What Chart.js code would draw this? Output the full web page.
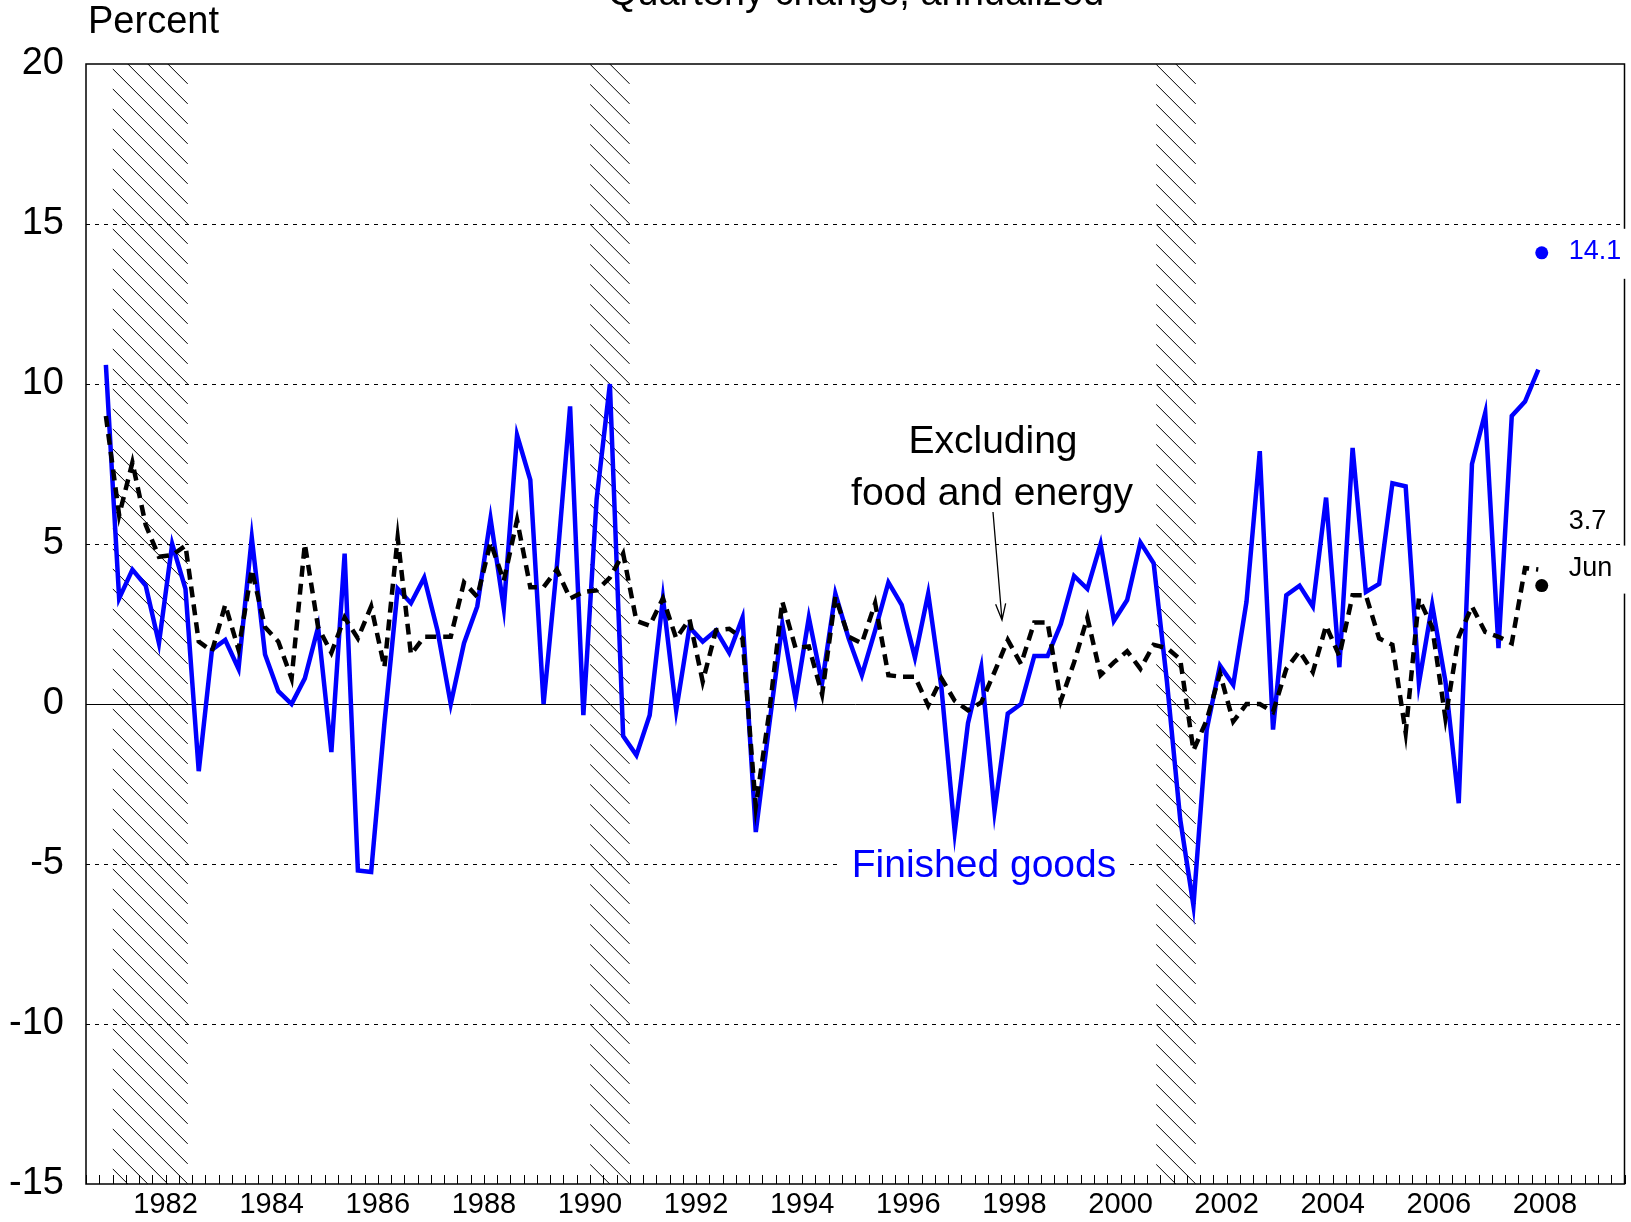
<!DOCTYPE html>
<html>
<head>
<meta charset="utf-8">
<title>Finished goods prices</title>
<script src="https://cdn.jsdelivr.net/npm/chart.js@4.4.1/dist/chart.umd.min.js"></script>
<style>
  body { margin: 0; background: #fff; }
  canvas { display: block; }
</style>
</head>
<body>
<canvas id="ppi" width="1631" height="1222"></canvas>
<script>
// Quarterly change, annualized (percent), 1981 Q2 .. 2008 Q2
const firstYear = 1981, firstQuarter = 2;

const finishedGoods = [
  10.6, 3.3, 4.2,
  3.7, 1.9, 5.0, 3.6,      // 1982
  -2.1, 1.7, 2.0, 1.1,     // 1983
  5.2, 1.55, 0.4, 0.0,     // 1984
  0.8, 2.4, -1.5, 4.7,     // 1985
  -5.2, -5.25, -0.6, 3.6,  // 1986
  3.15, 3.95, 2.3, 0.0,    // 1987
  1.9, 3.05, 5.8, 3.0,     // 1988
  8.4, 7.0, 0.0, 4.3,      // 1989
  9.3, -0.35, 6.4, 10.0,   // 1990
  -1.0, -1.6, -0.35, 3.3,  // 1991
  -0.2, 2.4, 1.95, 2.3,    // 1992
  1.6, 2.7, -4.0, -0.7,    // 1993
  2.5, 0.15, 2.7, 0.65,    // 1994
  3.45, 2.05, 0.9, 2.3,    // 1995
  3.8, 3.1, 1.45, 3.45,    // 1996
  0.5, -4.0, -0.6, 1.15,   // 1997
  -3.35, -0.3, 0.0, 1.5,   // 1998
  1.5, 2.5, 4.0, 3.6,      // 1999
  5.0, 2.6, 3.25, 5.05,    // 2000
  4.4, 0.7, -3.6, -6.3,    // 2001
  -0.8, 1.2, 0.6, 3.2,     // 2002
  7.9, -0.8, 3.4, 3.7,     // 2003
  3.05, 6.45, 1.15, 8.0,   // 2004
  3.5, 3.75, 6.9, 6.8,     // 2005
  0.65, 3.1, 0.7, -3.1,    // 2006
  7.5, 9.1, 1.75, 9.0,     // 2007
  9.45, 10.45              // 2008
];

const exFoodEnergy = [
  9.0, 5.9, 7.55,
  5.6, 4.6, 4.65, 4.95,    // 1982
  1.95, 1.65, 3.1, 1.7,    // 1983
  4.2, 2.4, 1.95, 0.8,     // 1984
  5.0, 2.4, 1.6, 2.7,      // 1985
  2.05, 3.05, 1.15, 5.2,   // 1986
  1.55, 2.1, 2.1, 2.1,     // 1987
  3.8, 3.35, 5.05, 3.85,   // 1988
  5.75, 3.65, 3.65, 4.2,   // 1989
  3.3, 3.5, 3.55, 3.95,    // 1990
  4.7, 2.6, 2.45, 3.3,     // 1991
  2.05, 2.65, 0.7, 2.3,    // 1992
  2.35, 2.05, -3.2, -0.3,  // 1993
  3.2, 1.75, 1.8, 0.3,     // 1994
  3.35, 2.1, 1.9, 3.15,    // 1995
  0.9, 0.85, 0.85, -0.05,  // 1996
  0.8, 0.1, -0.2, 0.05,    // 1997
  1.0, 2.0, 1.25, 2.55,    // 1998
  2.55, 0.1, 1.3, 2.7,     // 1999
  0.9, 1.3, 1.65, 1.1,     // 2000
  1.85, 1.75, 1.4, -1.45,  // 2001
  -0.5, 0.95, -0.55, 0.0,  // 2002
  0.0, -0.25, 1.1, 1.65,   // 2003
  1.0, 2.45, 1.5, 3.4,     // 2004
  3.4, 2.05, 1.85, -0.9,   // 2005
  3.3, 2.4, -0.45, 2.1,    // 2006
  3.05, 2.25, 2.1, 1.9,    // 2007
  4.25, 4.2                // 2008
];

// latest monthly reading, June 2008
const juneX = 2008.44;
const juneFinished = 14.1;
const juneCore = 3.7;

// recessions, decimal years
const recessionStart = [1981.5, 1990.5, 2001.17];
const recessionEnd = [1982.92, 1991.25, 2001.92];

const yTicks = [-15, -10, -5, 0, 5, 10, 15, 20];
const yearLabels = [1982, 1984, 1986, 1988, 1990, 1992, 1994, 1996, 1998, 2000, 2002, 2004, 2006, 2008];

// quarter midpoints on a decimal-year axis
const quarterX = finishedGoods.map((v, i) => firstYear + (firstQuarter - 1 + i) / 4 + 0.125);
const toPoints = arr => arr.map((v, i) => ({x: quarterX[i], y: v}));

const FONT = '"Liberation Sans", Arial, Helvetica, sans-serif';
const BLUE = '#0000ff';

const decor = {
  id: 'decor',
  beforeDatasetsDraw(chart) {
    const {ctx, chartArea: a, scales: {x, y}} = chart;
    ctx.save();
    // hatched recession bands
    for (let r = 0; r < recessionStart.length; r++) {
      const x1 = x.getPixelForValue(recessionStart[r]);
      const x2 = x.getPixelForValue(recessionEnd[r]);
      const w = x2 - x1;
      ctx.save();
      ctx.beginPath();
      ctx.rect(x1, a.top, w, a.bottom - a.top);
      ctx.clip();
      ctx.strokeStyle = '#000';
      ctx.lineWidth = 1;
      ctx.beginPath();
      for (let yy = a.top - w; yy < a.bottom; yy += 20) {
        ctx.moveTo(x1, yy);
        ctx.lineTo(x2, yy + w);
      }
      ctx.stroke();
      ctx.restore();
    }
    // horizontal grid
    yTicks.forEach(v => {
      if (v === yTicks[0] || v === yTicks[yTicks.length - 1]) return;
      const py = Math.round(y.getPixelForValue(v)) + 0.5;
      ctx.beginPath();
      ctx.strokeStyle = '#000';
      ctx.lineWidth = 1;
      ctx.setLineDash(v === 0 ? [] : [4, 5]);
      ctx.moveTo(a.left, py);
      ctx.lineTo(a.right, py);
      ctx.stroke();
    });
    ctx.setLineDash([]);
    // white box behind the "Finished goods" label
    ctx.fillStyle = '#fff';
    ctx.fillRect(842, y.getPixelForValue(-5) - 22, 285, 44);
    ctx.restore();
  },
  afterDatasetsDraw(chart) {
    const {ctx, chartArea: a, scales: {x, y}} = chart;
    ctx.save();
    ctx.setLineDash([]);
    // frame
    ctx.strokeStyle = '#000';
    ctx.lineWidth = 1.5;
    ctx.strokeRect(a.left, a.top, a.right - a.left, a.bottom - a.top);
    // quarterly ticks along the bottom, pointing in
    ctx.lineWidth = 1;
    ctx.beginPath();
    for (let t = x.min; t <= x.max; t += 0.25) {
      const px = Math.round(x.getPixelForValue(t)) + 0.5;
      ctx.moveTo(px, a.bottom);
      ctx.lineTo(px, a.bottom - 9);
    }
    ctx.stroke();

    // axis labels
    ctx.fillStyle = '#000';
    ctx.textBaseline = 'middle';
    ctx.textAlign = 'right';
    ctx.font = '38px ' + FONT;
    yTicks.forEach(v => ctx.fillText(String(v), a.left - 22, y.getPixelForValue(v)));
    ctx.textAlign = 'center';
    ctx.font = '29px ' + FONT;
    yearLabels.forEach(yr => ctx.fillText(String(yr), x.getPixelForValue(yr + 0.5), a.bottom + 21));

    // label boxes at the right edge
    const dotX = x.getPixelForValue(juneX);
    ctx.fillStyle = '#fff';
    ctx.fillRect(dotX + 12, y.getPixelForValue(juneFinished) - 24, 100, 50);
    ctx.fillRect(dotX + 11, y.getPixelForValue(juneCore) - 40, 100, 48);

    ctx.textAlign = 'left';
    ctx.font = '27px ' + FONT;
    ctx.fillStyle = BLUE;
    ctx.fillText('14.1', dotX + 27, y.getPixelForValue(juneFinished) - 1);
    ctx.fillStyle = '#000';
    ctx.fillText('3.7', dotX + 27, y.getPixelForValue(juneCore) - 64);
    ctx.fillText('Jun', dotX + 27, y.getPixelForValue(juneCore) - 17);

    // titles
    ctx.textBaseline = 'alphabetic';
    ctx.font = '38px ' + FONT;
    ctx.fillText('Percent', 88, 33);
    ctx.textAlign = 'center';
    ctx.fillText('Quarterly change, annualized', 856, 5);

    // series annotations
    ctx.font = '39px ' + FONT;
    ctx.fillText('Excluding', 993, 453);
    ctx.fillText('food and energy', 992, 505);
    ctx.fillStyle = BLUE;
    ctx.fillText('Finished goods', 984, 877);

    // arrow to the dashed line
    const x0 = 993, y0 = 512, x1 = 1002, y1 = 620;
    const ang = Math.atan2(y1 - y0, x1 - x0);
    ctx.strokeStyle = '#000';
    ctx.lineWidth = 1.3;
    ctx.beginPath();
    ctx.moveTo(x0, y0);
    ctx.lineTo(x1, y1);
    ctx.moveTo(x1 - 17 * Math.cos(ang - 0.3), y1 - 17 * Math.sin(ang - 0.3));
    ctx.lineTo(x1, y1);
    ctx.lineTo(x1 - 17 * Math.cos(ang + 0.3), y1 - 17 * Math.sin(ang + 0.3));
    ctx.stroke();
    ctx.restore();
  }
};

var ctx = document.getElementById('ppi').getContext('2d');
var myChart = new Chart(ctx, {
  type: 'line',
  data: {
    datasets: [
      {
        label: 'Excluding food and energy',
        data: toPoints(exFoodEnergy),
        borderColor: '#000',
        borderWidth: 4.5,
        borderDash: [11, 7],
        pointRadius: 0,
        tension: 0
      },
      {
        label: 'Finished goods',
        data: toPoints(finishedGoods),
        borderColor: BLUE,
        borderWidth: 4.5,
        pointRadius: 0,
        tension: 0
      },
      {
        label: 'June finished',
        data: [{x: juneX, y: juneFinished}],
        showLine: false,
        pointRadius: 6.5,
        pointBorderWidth: 0,
        pointBackgroundColor: BLUE
      },
      {
        label: 'June core',
        data: [{x: juneX, y: juneCore}],
        showLine: false,
        pointRadius: 6.5,
        pointBorderWidth: 0,
        pointBackgroundColor: '#000'
      }
    ]
  },
  options: {
    responsive: false,
    animation: false,
    events: [],
    layout: { padding: { top: 64, right: 6, left: 86, bottom: 38 } },
    plugins: { legend: { display: false }, tooltip: { enabled: false } },
    scales: {
      x: {
        type: 'linear',
        min: 1981,
        max: 2010,
        grid: { display: false, drawTicks: false },
        border: { display: false },
        ticks: { display: false }
      },
      y: {
        min: -15,
        max: 20,
        grid: { display: false, drawTicks: false },
        border: { display: false },
        ticks: { display: false, stepSize: 5 }
      }
    }
  },
  plugins: [decor]
});
</script>
</body>
</html>
